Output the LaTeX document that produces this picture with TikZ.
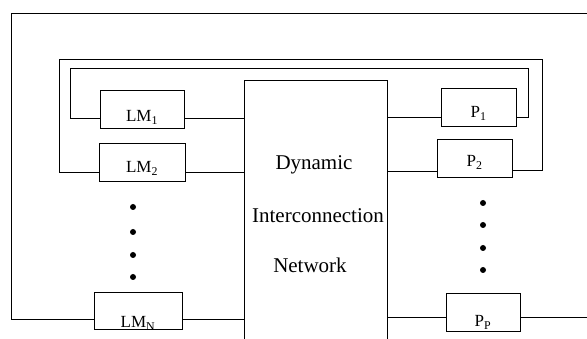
\documentclass[tikz,border=0pt]{standalone}
\usepackage{fontspec}
\setmainfont{Liberation Serif}
\usetikzlibrary{calc}
\tikzset{
  unitbox/.style = {draw, rectangle, inner sep = 0pt, minimum height = 38pt, text depth = 0pt, font = \fontsize{17}{19}\selectfont},
  nettext/.style = {anchor = base, inner sep = 0pt, font = \fontsize{21}{24}\selectfont}
}
\begin{document}
\begin{tikzpicture}[x = 1pt, y = -1pt, line width = 0.9pt]
\useasboundingbox (0,0) rectangle (587,339);
% network (open at the bottom)
\node[minimum width = 142pt, minimum height = 258pt, inner sep = 0pt] at (316,210) (net) {};
\draw (net.south west) |- (net.north east) -- (net.south east);
\node[nettext] at (314,170) (dyn) {Dynamic};
\node[nettext] at (318,223) (inter) {Interconnection};
\node[nettext] at (310,273) (netw) {Network};
% memory modules
\node[unitbox, minimum width = 84pt, text height = 26pt] at (142,109) (lm1) {LM\textsubscript{1}};
\node[unitbox, minimum width = 86pt, text height = 22pt] at (142,162) (lm2) {LM\textsubscript{2}};
\node[unitbox, minimum width = 88pt, minimum height = 37pt, text height = 35pt] at (138,310.5) (lmn) {LM\textsubscript{N}};
% processors
\node[unitbox, minimum width = 75pt, text height = 22pt] at (478.5,107) (p1) {P\textsubscript{1}};
\node[unitbox, minimum width = 75pt, text height = 18pt] at (474.5,158) (p2) {P\textsubscript{2}};
\node[unitbox, minimum width = 74pt, text height = 30pt] at (483,312) (pp) {P\textsubscript{P}};
\coordinate (edge1) at (587,13);
\coordinate (edge2) at (587,317);
% links to the network
\draw ([yshift=10pt]lm1.south east) coordinate (q1) -- (q1 -| net.west);
\draw ([yshift=9pt]lm2.south east) coordinate (q2) -- (q2 -| net.west);
\draw ([yshift=10pt]lmn.south east) coordinate (q3) -- (q3 -| net.west);
\draw ([yshift=9pt]p1.south west) coordinate (r1) -- (r1 -| net.east);
\draw ([yshift=6pt]p2.south west) coordinate (r2) -- (r2 -| net.east);
\draw ([yshift=14pt]pp.south west) coordinate (r3) -- (r3 -| net.east);
% feedback loops
\draw ([yshift=10pt]lm1.south west) -| (70,68) -- (528,68) |- ([yshift=9pt]p1.south east);
\draw ([yshift=9pt]lm2.south west) -| (59,59) -- (542,59) |- ([yshift=7pt]p2.south east);
\draw ([yshift=10pt]lmn.south west) -| (11,13) -- (edge1);
\draw ([yshift=14pt]pp.south east) coordinate (r4) -- (r4 -| edge2);
% dots
\fill (133,207) circle (3);
\fill (133,232) circle (3);
\fill (133,255) circle (3);
\fill (133,277) circle (3);
\fill (483,203) circle (3);
\fill (483,225) circle (3);
\fill (483,248) circle (3);
\fill (483,270) circle (3);
\end{tikzpicture}
\end{document}
